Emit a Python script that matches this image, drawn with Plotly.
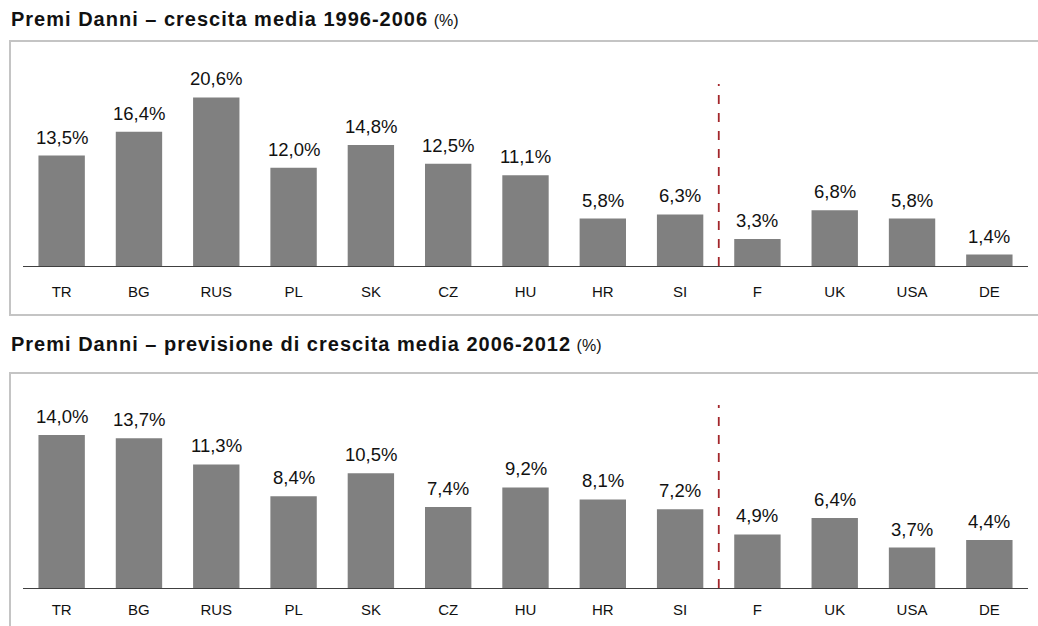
import plotly.graph_objects as go

# Paesi (ordine sull'asse delle categorie)
paesi = ["TR", "BG", "RUS", "PL", "SK", "CZ", "HU", "HR", "SI", "F", "UK", "USA", "DE"]

# Premi Danni – crescita media 1996-2006 (%)
crescita_1996_2006 = [13.5, 16.4, 20.6, 12.0, 14.8, 12.5, 11.1, 5.8, 6.3, 3.3, 6.8, 5.8, 1.4]

# Premi Danni – previsione di crescita media 2006-2012 (%)
previsione_2006_2012 = [14.0, 13.7, 11.3, 8.4, 10.5, 7.4, 9.2, 8.1, 7.2, 4.9, 6.4, 3.7, 4.4]

titoli = [
    "Premi Danni – crescita media 1996-2006",
    "Premi Danni – previsione di crescita media 2006-2012",
]

W, H = 1038, 626
FONT = "Liberation Sans, Arial, sans-serif"
BAR = "#808080"
RED = "#a3262b"
BORDER = "#c4c4c4"


def py(p):
    """pixel row -> paper y"""
    return 1 - p / H


def px(p):
    """pixel column -> paper x"""
    return p / W


def etichetta(v):
    return f"{v:.1f}".replace(".", ",") + "%"


fig = go.Figure()

# pannelli: (serie, asse, riga base, riga cima, range y, cima linea rossa, distanza etichette)
pannelli = [
    (crescita_1996_2006, "", 266, 86, 22.0, 84, 12),
    (previsione_2006_2012, "2", 588, 424, 15.0, 405, 8),
]

for valori, ax, base, top, ymax, dash_top, standoff in pannelli:
    fig.add_trace(go.Bar(
        x=paesi, y=valori, marker_color=BAR, marker_line_width=0,
        xaxis="x" + ax, yaxis="y" + ax, showlegend=False, hoverinfo="skip",
    ))
    for p, v in zip(paesi, valori):
        fig.add_annotation(
            x=p, y=v, xref="x" + ax, yref="y" + ax, text=etichetta(v),
            showarrow=False, yanchor="bottom", yshift=6,
            font=dict(family=FONT, size=18.5, color="#111111"),
        )
    # separatore tratteggiato tra SI e F
    fig.add_shape(
        type="line", xref="x" + ax, yref="paper",
        x0=8.5, x1=8.5, y0=py(base), y1=py(dash_top),
        line=dict(color=RED, width=1.8, dash="dash"),
    )
    fig.layout["xaxis" + ax] = dict(
        domain=[px(23), px(1028)], anchor="y" + ax,
        showline=True, linecolor="#404040", linewidth=1,
        ticks="", showgrid=False, fixedrange=True,
        tickfont=dict(family=FONT, size=15, color="#111111"),
        ticklabelstandoff=standoff,
    )
    fig.layout["yaxis" + ax] = dict(
        domain=[py(base), py(top)], anchor="x" + ax, range=[0, ymax],
        visible=False, showgrid=False, zeroline=False, fixedrange=True,
    )

# cornici dei pannelli
fig.add_shape(type="rect", xref="paper", yref="paper",
              x0=px(10), x1=px(1045), y0=py(315), y1=py(41),
              line=dict(color=BORDER, width=2), layer="below")
fig.add_shape(type="rect", xref="paper", yref="paper",
              x0=px(10), x1=px(1045), y0=py(640), y1=py(373),
              line=dict(color=BORDER, width=2), layer="below")

# titoli
for titolo, riga in zip(titoli, [19, 344]):
    fig.add_annotation(
        xref="paper", yref="paper", x=px(9), y=py(riga),
        xanchor="left", yanchor="middle", showarrow=False,
        text=(f"<span style='letter-spacing:1px'><b>{titolo}</b></span> "
              f"<span style='font-size:16px'>(%)</span>"),
        font=dict(family=FONT, size=20, color="#111111"),
    )

fig.update_layout(
    width=W, height=H, margin=dict(l=0, r=0, t=0, b=0),
    paper_bgcolor="white", plot_bgcolor="rgba(0,0,0,0)",
    bargap=0.4, showlegend=False,
)

fig.write_html("out.html")
